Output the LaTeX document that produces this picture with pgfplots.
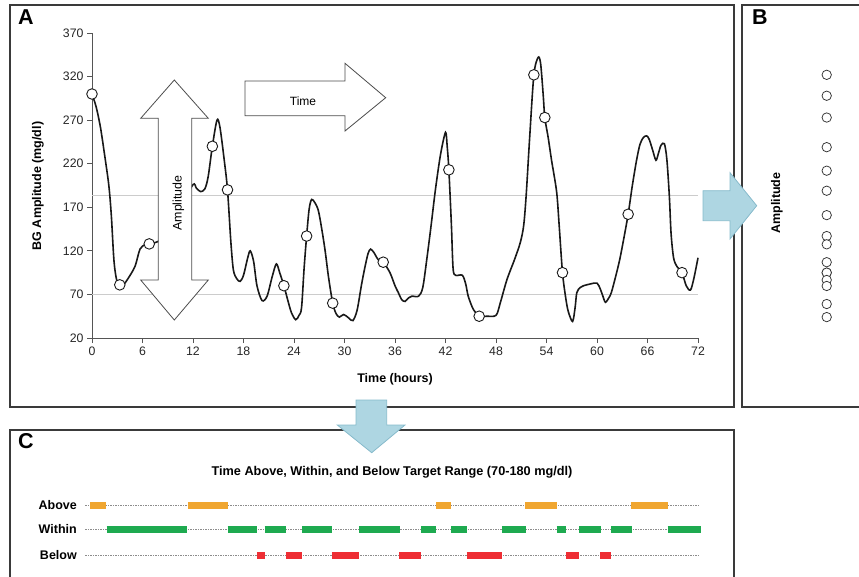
\documentclass[border=0pt]{standalone}
\usepackage{pgfplots}
\pgfplotsset{compat=1.18}
\usepackage{fontspec}
\setmainfont{Liberation Sans}
\definecolor{frm}{HTML}{3A3A3A}
\definecolor{axg}{HTML}{555555}
\definecolor{refl}{HTML}{CCCCCC}
\definecolor{blueF}{HTML}{AED6E2}
\definecolor{blueD}{HTML}{86BACB}
\definecolor{orA}{HTML}{F0A630}
\definecolor{grW}{HTML}{1EAA50}
\definecolor{rdB}{HTML}{EE2E34}
\begin{document}
\begin{tikzpicture}
\path[use as bounding box] (0pt,0pt) rectangle (859pt,-576pt);
\clip (0pt,0pt) rectangle (859pt,-576pt);
\begin{scope}[x=1pt,y=-1pt]
\draw[frm, line width=1.8pt] (10,5) rectangle (734,407);
\draw[frm, line width=1.8pt] (742,5) rectangle (880,407);
\draw[frm, line width=1.8pt] (10,430) rectangle (734,600);
\node[font=\fontsize{21.5}{21}\selectfont\bfseries] at (26,17) {A};
\node[font=\fontsize{21.5}{21}\selectfont\bfseries] at (760,17) {B};
\node[font=\fontsize{21.5}{21}\selectfont\bfseries] at (26,441) {C};
\node[font=\fontsize{12.5}{14}\selectfont\bfseries, rotate=90] at (38,186) {BG Amplitude (mg/dl)};
\node[font=\fontsize{12.5}{14}\selectfont\bfseries] at (395,379) {Time (hours)};
\node[font=\fontsize{12.5}{14}\selectfont\bfseries, rotate=90] at (777,203) {Amplitude};
\node[font=\fontsize{12.7}{14}\selectfont\bfseries] at (392,472) {Time Above, Within, and Below Target Range (70-180 mg/dl)};
\node[anchor=east, inner sep=0pt, font=\fontsize{12.5}{14}\selectfont\bfseries] at (77,505) {Above};
\node[anchor=east, inner sep=0pt, font=\fontsize{12.5}{14}\selectfont\bfseries] at (77,529) {Within};
\node[anchor=east, inner sep=0pt, font=\fontsize{12.5}{14}\selectfont\bfseries] at (77,555) {Below};
\end{scope}

% Panel A
\begin{axis}[
  at={(92pt,-338pt)}, anchor=south west,
  scale only axis, width=606pt, height=305pt,
  xmin=0, xmax=72, ymin=20, ymax=370,
  axis lines*=left,
  axis line style={axg, line width=0.8pt},
  xtick={0,6,...,72}, ytick={20,70,...,370},
  tick align=outside, major tick length=5pt,
  tick style={axg, line width=0.8pt},
  ticklabel style={font=\fontsize{12.3}{14}\selectfont, text=black!85},
  /pgf/number format/assume math mode=true,
  clip=false,
]
\addplot[refl, line width=1pt] coordinates {(0,70) (72,70)};
\addplot[refl, line width=1pt] coordinates {(0,183) (72,183)};
\addplot[black!90, line width=1.6pt, smooth, tension=0.5] coordinates {
(0,300) (0.5,285) (1,262) (1.5,230) (2,195) (2.3,160) (2.6,110) (2.9,88) (3.3,81) (3.8,82) (4.2,87) (5.1,102) (5.7,122) (6.3,127) (6.8,128) (7.9,131) (9,140) (10.5,170) (12,196) (12.4,192) (12.9,188) (13.4,191) (13.8,205) (14.3,240) (14.85,270) (15.2,262) (15.7,225) (16.1,190) (16.5,130) (16.8,98) (17.2,88) (17.6,85) (18,92) (18.5,112) (18.8,120) (19.2,108) (19.6,80) (20.2,63) (20.8,68) (21.4,90) (21.9,105) (22.3,95) (22.8,80) (23.3,62) (23.7,49) (24.2,41) (24.6,46) (24.9,55) (25.2,100) (25.5,137) (25.8,168) (26.1,179) (26.5,175) (26.9,166) (27.3,145) (27.7,120) (28.1,90) (28.6,60) (29,48) (29.4,44) (29.9,47) (30.5,43) (31,40) (31.5,52) (32,80) (32.4,100) (32.8,117) (33.1,122) (33.5,118) (34,110) (34.6,107) (35.4,95) (36,80) (36.4,72) (36.8,64) (37.2,62) (37.6,66) (38,68) (38.8,68) (39.3,78) (39.8,112) (40.3,150) (40.8,190) (41.4,230) (42,256) (42.2,240) (42.4,213) (42.7,150) (42.9,100) (43.2,92) (44,92) (44.4,82) (44.7,68) (45.3,53) (46,45) (46.9,45) (48,46) (48.5,60) (49.3,87) (50.2,110) (50.9,130) (51.3,150) (51.6,186) (52,250) (52.5,322) (53,342) (53.3,335) (53.6,300) (53.8,273) (54.2,250) (54.6,224) (55.2,188) (55.5,150) (55.9,95) (56.3,65) (56.6,50) (57.1,39) (57.4,55) (57.6,72) (58,78) (58.4,80) (59.2,82) (60,83) (60.4,76) (60.7,68) (61,61) (61.4,66) (61.7,72) (62.2,90) (62.7,110) (63.2,135) (63.7,162) (64.2,195) (64.7,224) (65.1,242) (65.5,250) (65.9,252) (66.2,248) (66.6,236) (67,224) (67.3,232) (67.6,241) (68,243) (68.3,225) (68.6,182) (68.8,140) (69.1,112) (69.5,102) (70.1,95) (70.6,80) (71.1,75) (71.5,88) (72,112)
};
\addplot[only marks, mark=*, mark size=5.3pt, mark options={fill=white, draw=black!90, line width=0.9pt}] coordinates {
(0,300) (3.3,81) (6.8,128) (14.3,240) (16.1,190) (22.8,80) (25.5,137) (28.6,60) (34.6,107) (42.4,213) (46,45) (52.5,322) (53.8,273) (55.9,95) (63.7,162) (70.1,95)
};
\end{axis}

% Panel B
\begin{axis}[
  at={(806.7pt,-338pt)}, anchor=south west,
  scale only axis, width=40pt, height=305pt,
  xmin=0, xmax=1, ymin=20, ymax=370,
  hide axis, clip=false,
]
\addplot[only marks, mark=*, mark size=4.7pt, mark options={fill=white, draw=black!80, line width=0.75pt}] coordinates {
(0.5,322) (0.5,298) (0.5,273) (0.5,239) (0.5,212) (0.5,189) (0.5,161) (0.5,137) (0.5,127.5) (0.5,107) (0.5,95) (0.5,95) (0.5,86.6) (0.5,79.7) (0.5,59) (0.5,44)
};
\end{axis}

% Panel C
\begin{axis}[
  at={(92pt,-580pt)}, anchor=south west,
  scale only axis, width=606pt, height=100pt,
  xmin=0, xmax=72, ymin=-580, ymax=-480,
  hide axis, clip=false, unbounded coords=jump,
]
\addplot[gray!90, line width=0.8pt, dash pattern=on 1.3pt off 1.2pt] coordinates {(-0.8,-505) (72,-505)};
\addplot[gray!90, line width=0.8pt, dash pattern=on 1.3pt off 1.2pt] coordinates {(-0.8,-529) (72,-529)};
\addplot[gray!90, line width=0.8pt, dash pattern=on 1.3pt off 1.2pt] coordinates {(-0.8,-555) (72,-555)};
\addplot[orA, line width=7pt, line cap=butt] coordinates {
(-0.2,-505) (1.7,-505) (nan,nan) (11.4,-505) (16.2,-505) (nan,nan) (40.9,-505) (42.7,-505) (nan,nan) (51.5,-505) (55.2,-505) (nan,nan) (64,-505) (68.4,-505)
};
\addplot[grW, line width=7pt, line cap=butt] coordinates {
(1.74,-529) (11.3,-529) (nan,nan) (16.1,-529) (19.6,-529) (nan,nan) (20.5,-529) (23.1,-529) (nan,nan) (25,-529) (28.5,-529) (nan,nan) (31.7,-529) (36.6,-529) (nan,nan) (39.1,-529) (40.9,-529) (nan,nan) (42.7,-529) (44.6,-529) (nan,nan) (48.7,-529) (51.6,-529) (nan,nan) (55.2,-529) (56.3,-529) (nan,nan) (57.9,-529) (60.5,-529) (nan,nan) (61.7,-529) (64.2,-529) (nan,nan) (68.4,-529) (72.4,-529)
};
\addplot[rdB, line width=7pt, line cap=butt] coordinates {
(19.6,-555) (20.5,-555) (nan,nan) (23,-555) (25,-555) (nan,nan) (28.5,-555) (31.7,-555) (nan,nan) (36.5,-555) (39.1,-555) (nan,nan) (44.5,-555) (48.7,-555) (nan,nan) (56.3,-555) (57.9,-555) (nan,nan) (60.4,-555) (61.7,-555)
};
\end{axis}

% Arrows on top
\begin{scope}[x=1pt,y=-1pt]
\draw[fill=white, draw=black!70, line width=0.8pt] (174.3,80) -- (208.3,118.3) -- (191.7,118.3) -- (191.7,280) -- (208.3,280) -- (174.3,320) -- (140.7,280) -- (158.3,280) -- (158.3,118.3) -- (140.7,118.3) -- cycle;
\node[font=\fontsize{12.4}{14}\selectfont, rotate=90] at (178.3,203) {Amplitude};
\draw[fill=white, draw=black!70, line width=0.8pt] (245,81) -- (345,81) -- (345,63.3) -- (385.7,97.7) -- (345,131) -- (345,115.7) -- (245,115.7) -- cycle;
\node[font=\fontsize{12}{14}\selectfont] at (303,101) {Time};
\draw[fill=blueF, draw=blueD, line width=0.8pt] (703,190.7) -- (730,190.7) -- (730,172.7) -- (756.7,205.7) -- (730,239) -- (730,220.7) -- (703,220.7) -- cycle;
\draw[fill=blueF, draw=blueD, line width=0.8pt] (356,400) -- (386.7,400) -- (386.7,425) -- (405,425) -- (371.7,452.7) -- (337.3,425) -- (356,425) -- cycle;
\end{scope}
\end{tikzpicture}
\end{document}
